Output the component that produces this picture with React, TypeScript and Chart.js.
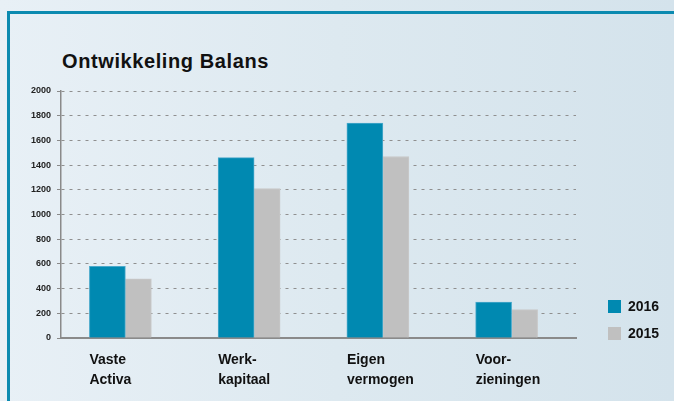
import React, { useEffect, useRef } from 'react';
import { Chart, registerables } from 'chart.js';

Chart.register(...registerables);

const chartTitle = 'Ontwikkeling Balans';
const categories: string[][] = [
  ['Vaste', 'Activa'],
  ['Werk-', 'kapitaal'],
  ['Eigen', 'vermogen'],
  ['Voor-', 'zieningen'],
];
const seriesNames = ['2016', '2015'];
const values2016 = [580, 1460, 1740, 290];
const values2015 = [480, 1210, 1470, 230];
const yMin = 0;
const yMax = 2000;
const yStep = 200;

const TEAL = '#0089b1';
const GRAY = '#c0c0c0';
const FONT = '"Liberation Sans", Arial, Helvetica, sans-serif';

const sideLegend = {
  id: 'sideLegend',
  afterDraw(chart: any) {
    const { ctx, chartArea } = chart;
    const x = chartArea.right + 32;
    chart.data.datasets.forEach((ds: any, i: number) => {
      const y = chartArea.bottom - 38 + i * 27;
      ctx.save();
      ctx.fillStyle = ds.backgroundColor;
      ctx.fillRect(x, y, 13, 13);
      ctx.fillStyle = '#111';
      ctx.font = `bold 14px ${FONT}`;
      ctx.textBaseline = 'middle';
      ctx.textAlign = 'left';
      ctx.fillText(ds.label, x + 20, y + 7);
      ctx.restore();
    });
  },
};

export default function App() {
  const ref = useRef<HTMLCanvasElement | null>(null);

  useEffect(() => {
    document.body.style.margin = '0';
    const canvas = ref.current;
    if (!canvas) return;
    const chart = new Chart(canvas, {
      type: 'bar',
      data: {
        labels: categories,
        datasets: [
          {
            label: seriesNames[0],
            data: values2016,
            backgroundColor: TEAL,
            borderColor: '#49a9cb',
            borderWidth: 1,
            barThickness: 36,
          } as any,
          {
            label: seriesNames[1],
            data: values2015,
            backgroundColor: GRAY,
            borderColor: '#c9c9c9',
            borderWidth: 1,
            barThickness: 26,
          } as any,
        ],
      },
      options: {
        animation: false,
        responsive: false,
        maintainAspectRatio: false,
        layout: { padding: { left: 28, right: 98, top: 91, bottom: 3 } },
        plugins: {
          legend: { display: false },
          tooltip: { enabled: false },
          title: { display: false },
        },
        scales: {
          x: {
            grid: { display: false, drawTicks: false },
            border: { display: true, color: '#8a8a8a', width: 2 },
            ticks: {
              align: 'start',
              labelOffset: -36,
              padding: 12,
              color: '#111',
              font: { family: FONT, size: 14, weight: 'bold', lineHeight: 1.43 },
              maxRotation: 0,
              autoSkip: false,
            },
            afterFit: (s: any) => {
              s.height = 60;
            },
          } as any,
          y: {
            min: yMin,
            max: yMax,
            grid: {
              color: '#8f8f8f',
              lineWidth: 1,
              tickLength: 4,
              tickColor: '#8a8a8a',
              tickBorderDash: [],
            },
            border: { display: true, color: '#8a8a8a', width: 1.5, dash: [3, 5] },
            ticks: {
              stepSize: yStep,
              padding: 6,
              color: '#222',
              font: { family: FONT, size: 9, weight: 'bold' },
              callback: (v: any) => String(v),
            },
            afterFit: (s: any) => {
              s.width = 33;
            },
          } as any,
        },
      },
      plugins: [sideLegend],
    });
    return () => chart.destroy();
  }, []);

  return (
    <div
      style={{
        position: 'relative',
        width: 674,
        height: 401,
        overflow: 'hidden',
        background: 'linear-gradient(90deg, #e8f0f6 0%, #dde9f0 50%, #d4e3ec 100%)',
        fontFamily: FONT,
      }}
    >
      <div
        style={{
          position: 'absolute',
          left: 7,
          top: 11,
          right: -10,
          bottom: -10,
          borderLeft: '3px solid #0b8ab0',
          borderTop: '3px solid #0b8ab0',
        }}
      />
      <div
        style={{
          position: 'absolute',
          left: 62,
          top: 51,
          fontSize: 20,
          lineHeight: '20px',
          fontWeight: 'bold',
          letterSpacing: '0.6px',
          color: '#111',
          whiteSpace: 'nowrap',
        }}
      >
        {chartTitle}
      </div>
      <canvas
        ref={ref}
        width={674}
        height={401}
        style={{ position: 'absolute', left: 0, top: 0, width: 674, height: 401 }}
      />
    </div>
  );
}
